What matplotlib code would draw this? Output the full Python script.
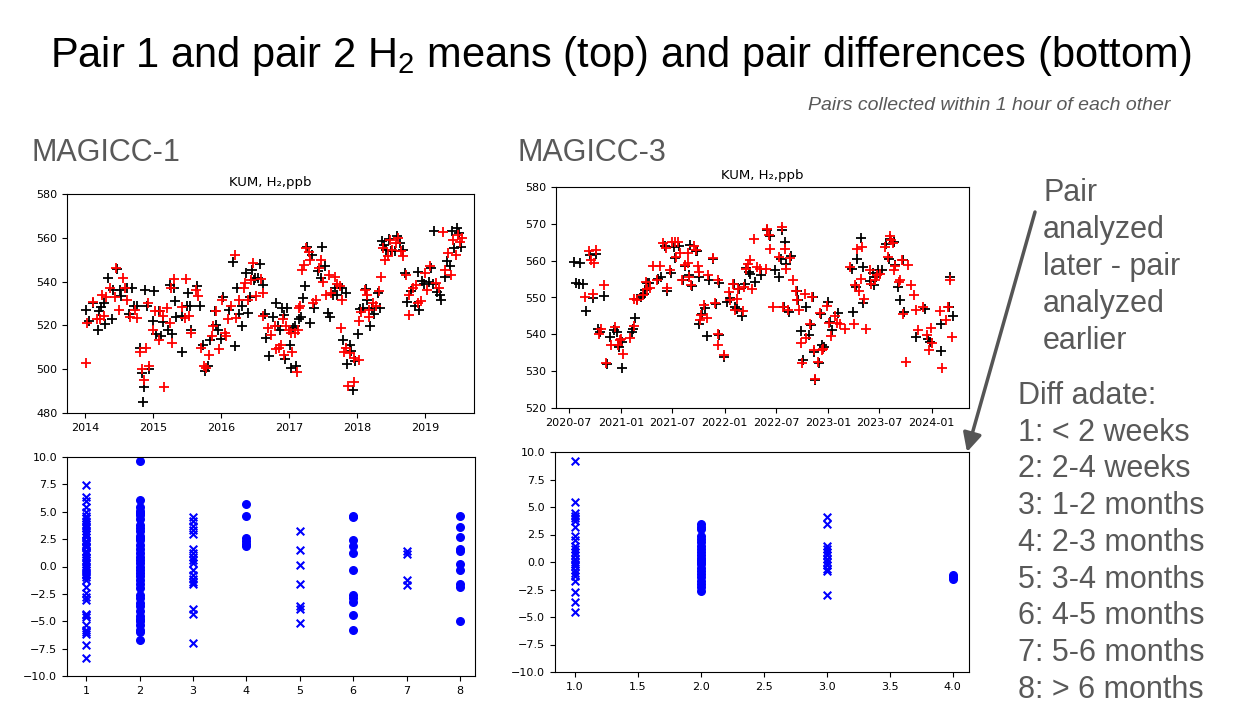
import matplotlib
matplotlib.use("Agg")
import matplotlib.pyplot as plt
import matplotlib.dates as mdates
import pandas as pd

# MAGICC-1, KUM H2 means (decimal year, ppb) - pair 1 black, pair 2 red
m1_pair1 = [
    (2014.01, 527), (2014.06, 522), (2014.12, 530), (2014.18, 518), (2014.20, 526.5), (2014.23, 528.5),
    (2014.27, 530), (2014.29, 520.5), (2014.34, 541.7), (2014.39, 523), (2014.41, 536), (2014.46, 545.8),
    (2014.51, 536), (2014.53, 533.5), (2014.61, 537), (2014.64, 525), (2014.68, 537), (2014.71, 529),
    (2014.76, 529), (2014.80, 509.7), (2014.83, 498.3), (2014.85, 485), (2014.86, 491.7), (2014.88, 536),
    (2014.91, 529), (2014.94, 500), (2015.00, 522), (2015.01, 535.6), (2015.04, 516), (2015.09, 526.5),
    (2015.11, 515), (2015.14, 521.4), (2015.22, 517.7), (2015.25, 538.3), (2015.27, 516), (2015.30, 537),
    (2015.32, 531), (2015.34, 524), (2015.42, 508), (2015.43, 524.4), (2015.50, 529), (2015.51, 535),
    (2015.54, 529), (2015.56, 518), (2015.64, 537.8), (2015.69, 529), (2015.73, 511), (2015.76, 499.3),
    (2015.81, 501.3), (2015.84, 513.5), (2015.91, 526.5), (2015.93, 520.3), (2015.96, 517.8), (2015.99, 513.6),
    (2016.03, 532.8), (2016.12, 527), (2016.17, 548.8), (2016.21, 510.7), (2016.24, 537), (2016.26, 525),
    (2016.30, 528.7), (2016.31, 519.5), (2016.37, 544), (2016.40, 525.6), (2016.42, 533), (2016.46, 545.4),
    (2016.48, 540.7), (2016.50, 541.6), (2016.54, 541.6), (2016.57, 548), (2016.61, 538.6), (2016.64, 525),
    (2016.66, 514.3), (2016.71, 506), (2016.76, 524), (2016.80, 530), (2016.83, 519.6), (2016.86, 518),
    (2016.90, 528), (2016.92, 524.6), (2016.94, 504.7), (2016.97, 528), (2017.01, 511), (2017.02, 500.4),
    (2017.05, 518.8), (2017.08, 519.6), (2017.10, 501.3), (2017.15, 523), (2017.18, 524), (2017.20, 532.4),
    (2017.23, 537.8), (2017.26, 555.7), (2017.30, 521), (2017.33, 552.3), (2017.37, 528), (2017.42, 544.7),
    (2017.47, 541.6), (2017.48, 555.7), (2017.53, 547), (2017.57, 525.6), (2017.60, 524), (2017.64, 534),
    (2017.68, 537), (2017.71, 534), (2017.78, 537), (2017.79, 513.5), (2017.83, 535), (2017.85, 502.6),
    (2017.89, 511), (2017.91, 508.2), (2017.94, 490.7), (2017.97, 503.9), (2018.01, 516.2), (2018.04, 527.5),
    (2018.08, 528), (2018.13, 536.6), (2018.15, 531.7), (2018.19, 519.6), (2018.22, 528), (2018.25, 525.3),
    (2018.30, 534.8), (2018.33, 528), (2018.37, 558.4), (2018.40, 556.9), (2018.43, 554.6), (2018.47, 559.5),
    (2018.50, 553.8), (2018.55, 553.8), (2018.59, 560.7), (2018.63, 557.7), (2018.67, 554.6), (2018.70, 543.9),
    (2018.74, 530.9), (2018.79, 535.6), (2018.85, 528.7), (2018.89, 544.2), (2018.91, 527.2), (2018.96, 540.2),
    (2018.99, 538.7), (2019.06, 539.7), (2019.08, 546.2), (2019.11, 538.7), (2019.13, 563), (2019.18, 535.2),
    (2019.22, 534), (2019.24, 531.7), (2019.29, 542.3), (2019.33, 549.2), (2019.36, 547), (2019.40, 563),
    (2019.43, 555.3), (2019.47, 564.5), (2019.50, 562), (2019.53, 556),
]
m1_pair2 = [
    (2014.01, 503), (2014.02, 521), (2014.11, 530.5), (2014.17, 523), (2014.22, 523), (2014.24, 534),
    (2014.28, 524.5), (2014.31, 533), (2014.36, 537.3), (2014.43, 533), (2014.45, 546), (2014.49, 527),
    (2014.56, 541.7), (2014.59, 537.3), (2014.62, 531.7), (2014.66, 524), (2014.73, 527), (2014.76, 523.4),
    (2014.80, 507.7), (2014.83, 500), (2014.87, 495), (2014.90, 509.7), (2014.92, 530), (2014.94, 501.5),
    (2015.00, 518), (2015.03, 526.5), (2015.08, 513.5), (2015.10, 526.5), (2015.15, 524.4), (2015.16, 491.7),
    (2015.20, 528), (2015.24, 521), (2015.26, 537), (2015.27, 512), (2015.30, 541.3), (2015.43, 528.3),
    (2015.47, 523.4), (2015.48, 541.3), (2015.52, 524.4), (2015.55, 516.5), (2015.63, 536.3), (2015.66, 533.6),
    (2015.71, 509.7), (2015.74, 501.6), (2015.77, 500.5), (2015.82, 506.6), (2015.86, 515.3), (2015.88, 519.6),
    (2015.92, 526.5), (2015.97, 509), (2016.01, 531.7), (2016.05, 516.5), (2016.07, 515), (2016.10, 523),
    (2016.14, 528.7), (2016.20, 552), (2016.22, 523.4), (2016.27, 531.7), (2016.33, 537), (2016.35, 539.4),
    (2016.39, 531.7), (2016.44, 540.7), (2016.47, 548.5), (2016.52, 533.6), (2016.58, 541), (2016.61, 524.4),
    (2016.62, 534.8), (2016.69, 518.8), (2016.74, 515.8), (2016.79, 519.6), (2016.81, 509), (2016.85, 509.7),
    (2016.88, 511), (2016.91, 523), (2016.93, 506.6), (2016.96, 519.6), (2017.00, 518), (2017.03, 516.5),
    (2017.04, 507.7), (2017.08, 516.5), (2017.11, 498.9), (2017.13, 518), (2017.14, 528), (2017.16, 528.7),
    (2017.19, 545.4), (2017.21, 547.7), (2017.25, 555.3), (2017.29, 553.4), (2017.31, 550), (2017.35, 530),
    (2017.40, 531.7), (2017.44, 546.2), (2017.47, 550), (2017.50, 540), (2017.54, 534), (2017.59, 543.1),
    (2017.62, 534.8), (2017.67, 542.3), (2017.70, 538.7), (2017.75, 538), (2017.76, 518.8), (2017.78, 531.7),
    (2017.80, 507.7), (2017.84, 509.7), (2017.86, 492.2), (2017.90, 507.4), (2017.95, 494), (2017.96, 505),
    (2018.02, 504.1), (2018.03, 522.2), (2018.06, 526), (2018.11, 536.3), (2018.15, 534), (2018.17, 527.2),
    (2018.18, 524), (2018.24, 530), (2018.28, 528.7), (2018.32, 535.6), (2018.35, 542.3), (2018.38, 555.3),
    (2018.41, 550), (2018.45, 551.5), (2018.48, 559.2), (2018.51, 554.6), (2018.57, 557.7), (2018.60, 560),
    (2018.64, 553.8), (2018.68, 551.8), (2018.72, 543.1), (2018.76, 534), (2018.77, 524.6), (2018.82, 537),
    (2018.86, 538.6), (2018.90, 530), (2018.94, 531), (2019.00, 543.9), (2019.03, 536.3), (2019.07, 547.3),
    (2019.16, 539.4), (2019.20, 537), (2019.26, 562.5), (2019.30, 545.4), (2019.34, 553), (2019.38, 543.1),
    (2019.41, 559.2), (2019.45, 552.3), (2019.49, 561.4), (2019.52, 558), (2019.54, 560),
]

# MAGICC-3, KUM H2 means
m3_pair1 = [
    (2020.55, 559.6), (2020.61, 559.4), (2020.57, 553.9), (2020.60, 553.6), (2020.64, 553.8), (2020.66, 546.3),
    (2020.70, 561.6), (2020.73, 549.9), (2020.76, 561.7), (2020.78, 541.5), (2020.80, 540.6), (2020.84, 550.3),
    (2020.87, 532.0), (2020.90, 539.3), (2020.93, 541.1), (2020.96, 540.6), (2020.98, 536.6), (2021.01, 537.9),
    (2021.01, 530.9), (2021.11, 540.6), (2021.12, 541.5), (2021.14, 544.5), (2021.15, 549.7), (2021.19, 550.1),
    (2021.22, 551.0), (2021.23, 552.1), (2021.25, 553.9), (2021.27, 553.9), (2021.36, 555.1), (2021.39, 555.6),
    (2021.42, 563.9), (2021.44, 551.8), (2021.48, 556.7), (2021.51, 563.7), (2021.52, 560.7), (2021.56, 563.9),
    (2021.60, 554.8), (2021.62, 558.5), (2021.66, 556.0), (2021.67, 564.2), (2021.69, 553.0), (2021.72, 562.6),
    (2021.73, 562.6), (2021.75, 555.7), (2021.75, 542.9), (2021.78, 545.4), (2021.81, 547.2), (2021.83, 539.5),
    (2021.85, 554.8), (2021.89, 560.5), (2021.92, 548.1), (2021.95, 539.7), (2021.95, 553.9), (2021.99, 533.8),
    (2022.02, 548.8), (2022.05, 549.9), (2022.09, 553.6), (2022.10, 547.4), (2022.12, 547.0), (2022.14, 552.4),
    (2022.17, 544.9), (2022.20, 553.6), (2022.21, 558.1), (2022.24, 556.9), (2022.25, 556.5), (2022.29, 554.2),
    (2022.35, 556.0), (2022.41, 568.2), (2022.44, 566.8), (2022.49, 557.4), (2022.53, 555.6), (2022.54, 560.5),
    (2022.55, 568.4), (2022.57, 547.4), (2022.58, 565.1), (2022.59, 559.0), (2022.62, 546.1), (2022.64, 561.4),
    (2022.70, 551.7), (2022.71, 549.2), (2022.74, 540.9), (2022.76, 532.9), (2022.79, 547.4), (2022.81, 539.9),
    (2022.83, 542.4), (2022.85, 550.1), (2022.86, 535.2), (2022.87, 527.7), (2022.91, 532.2), (2022.93, 545.6),
    (2022.94, 537.0), (2022.96, 536.6), (2023.00, 548.8), (2023.02, 543.3), (2023.04, 541.1), (2023.10, 545.8),
    (2023.23, 557.8), (2023.24, 546.1), (2023.27, 552.9), (2023.28, 560.5), (2023.32, 566.2), (2023.34, 548.5),
    (2023.34, 558.3), (2023.40, 554.5), (2023.43, 556.7), (2023.44, 553.3), (2023.46, 555.7), (2023.48, 557.4),
    (2023.52, 557.4), (2023.56, 564.4), (2023.59, 560.5), (2023.60, 566.0), (2023.64, 565.1), (2023.65, 558.8),
    (2023.67, 552.9), (2023.69, 549.2), (2023.72, 560.1), (2023.73, 546.1), (2023.85, 539.3), (2023.93, 546.8),
    (2023.96, 538.6), (2023.98, 537.9), (2024.09, 542.7), (2024.09, 535.5), (2024.17, 547.4), (2024.18, 555.7),
    (2024.21, 544.9),
]
m3_pair2 = [
    (2020.65, 550.1), (2020.69, 562.6), (2020.71, 560.3), (2020.73, 551.0), (2020.74, 559.5), (2020.76, 562.8),
    (2020.79, 540.2), (2020.81, 541.5), (2020.84, 553.3), (2020.86, 532.2), (2020.91, 537.0), (2020.94, 542.0),
    (2020.97, 537.0), (2020.99, 538.4), (2021.00, 538.6), (2021.02, 534.6), (2021.09, 539.1), (2021.13, 542.2),
    (2021.13, 549.7), (2021.15, 549.2), (2021.21, 550.6), (2021.25, 552.4), (2021.24, 554.2), (2021.28, 552.7),
    (2021.31, 558.5), (2021.38, 558.5), (2021.35, 554.8), (2021.41, 564.8), (2021.43, 563.5), (2021.44, 552.7),
    (2021.47, 557.6), (2021.49, 565.0), (2021.52, 565.0), (2021.53, 561.0), (2021.55, 565.0), (2021.57, 562.1),
    (2021.59, 554.8), (2021.62, 558.7), (2021.65, 562.1), (2021.65, 559.4), (2021.66, 555.6), (2021.68, 553.3),
    (2021.70, 563.9), (2021.72, 562.8), (2021.74, 558.5), (2021.75, 556.9), (2021.76, 544.0), (2021.77, 545.2),
    (2021.80, 547.9), (2021.83, 544.3), (2021.84, 556.0), (2021.89, 560.8), (2021.91, 548.4), (2021.94, 537.0),
    (2021.94, 540.2), (2021.94, 554.8), (2021.99, 534.3), (2022.04, 551.5), (2022.05, 549.2), (2022.08, 553.7),
    (2022.10, 546.5), (2022.12, 549.7), (2022.13, 552.4), (2022.18, 546.3), (2022.19, 552.9), (2022.21, 557.8),
    (2022.23, 559.2), (2022.25, 560.1), (2022.26, 552.4), (2022.28, 566.0), (2022.31, 558.3), (2022.34, 557.8),
    (2022.40, 557.8), (2022.41, 568.7), (2022.43, 567.1), (2022.44, 563.3), (2022.47, 547.4), (2022.53, 561.0),
    (2022.55, 569.1), (2022.56, 547.4), (2022.58, 563.3), (2022.59, 557.8), (2022.61, 546.5), (2022.63, 560.8),
    (2022.66, 554.8), (2022.69, 551.7), (2022.70, 549.4), (2022.72, 546.7), (2022.74, 537.6), (2022.75, 532.2),
    (2022.78, 551.0), (2022.79, 539.1), (2022.82, 542.7), (2022.84, 550.1), (2022.86, 535.7), (2022.87, 528.0),
    (2022.90, 532.5), (2022.92, 545.8), (2022.94, 535.7), (2022.95, 536.1), (2022.99, 547.6), (2023.01, 543.1),
    (2023.03, 539.5), (2023.07, 544.9), (2023.09, 543.1), (2023.11, 542.9), (2023.16, 541.4), (2023.21, 558.3),
    (2023.25, 542.9), (2023.26, 553.3), (2023.28, 563.3), (2023.30, 551.9), (2023.32, 555.1), (2023.33, 563.7),
    (2023.35, 549.7), (2023.37, 541.5), (2023.40, 557.4), (2023.41, 553.7), (2023.45, 554.8), (2023.47, 556.0),
    (2023.50, 556.5), (2023.55, 563.7), (2023.58, 561.0), (2023.60, 566.8), (2023.61, 565.7), (2023.63, 564.8),
    (2023.64, 557.4), (2023.65, 558.5), (2023.68, 554.2), (2023.69, 554.8), (2023.71, 560.3), (2023.72, 545.4),
    (2023.75, 532.5), (2023.77, 558.7), (2023.80, 553.3), (2023.83, 550.8), (2023.85, 546.7), (2023.87, 541.3),
    (2023.92, 547.4), (2023.95, 539.7), (2023.97, 535.7), (2023.99, 541.8), (2024.00, 537.6), (2024.08, 546.3),
    (2024.10, 530.9), (2024.14, 544.0), (2024.16, 547.4), (2024.18, 554.8), (2024.20, 539.3),
]

# pair differences by "diff adate" category
m1_diffs = [
    [7.4, 6.35, 6.0, 5.4, 5.0, 4.6, 4.4, 4.2, 3.9, 3.7, 3.55, 3.25, 3.0, 2.95, 2.65, 2.35, 2.2, 2.05, 1.9,
     1.75, 1.45, 1.3, 1.15, 0.9, 0.6, 0.4, 0.25, 0.0, -0.3, -0.5, -0.65, -0.8, -0.95, -1.25, -1.85, -2.4,
     -2.75, -3.1, -4.3, -4.4, -4.6, -5.35, -5.8, -6.0, -6.2, -7.2, -8.4],
    [9.6, 6.1, 5.4, 5.1, 4.9, 4.7, 4.3, 3.8, 3.5, 3.2, 2.8, 2.6, 2.4, 2.0, 1.6, 1.2, 0.9, 0.6, 0.3, 0.0,
     -0.3, -0.6, -0.9, -1.2, -1.6, -2.0, -2.6, -2.9, -3.3, -3.6, -4.1, -4.5, -4.8, -5.0, -5.3, -5.8, -6.0, -6.7],
    [4.5, 4.2, 3.7, 3.3, 3.0, 1.6, 1.2, 0.9, 0.6, 0.3, -0.3, -0.8, -1.1, -1.4, -1.6, -3.85, -4.3, -7.0],
    [5.75, 4.65, 2.6, 2.3, 2.1, 1.85],
    [3.2, 1.55, 0.15, -1.6, -3.6, -3.9, -5.2],
    [4.65, 4.55, 2.4, 1.85, 1.2, -0.3, -2.6, -2.9, -3.2, -4.4, -5.8],
    [1.45, 1.15, -1.25, -1.7],
    [4.6, 3.65, 2.7, 1.6, 1.4, 0.2, -0.35, -1.6, -1.85, -5.0],
]
m3_diffs = [
    [9.2, 5.5, 4.5, 4.2, 4.0, 3.7, 3.2, 2.4, 2.0, 1.5, 1.2, 0.9, 0.6, 0.3, 0.0, -0.2, -0.4, -0.7, -1.0,
     -1.3, -1.7, -2.7, -3.6, -4.5],
    [3.5, 3.2, 3.0, 2.4, 2.1, 1.8, 1.5, 1.2, 0.9, 0.6, 0.4, 0.2, 0.0, -0.2, -0.5, -0.8, -1.1, -1.4, -1.7,
     -2.0, -2.3, -2.6],
    [4.1, 3.5, 1.5, 1.2, 0.9, 0.6, 0.3, 0.0, -0.3, -0.6, -0.8, -3.0],
    [-1.2, -1.4, -1.5],
]

note_lines = ["Pair", "analyzed", "later - pair", "analyzed", "earlier"]
adate_lines = ["Diff adate:", "1: < 2 weeks", "2: 2-4 weeks", "3: 1-2 months", "4: 2-3 months",
               "5: 3-4 months", "6: 4-5 months", "7: 5-6 months", "8: > 6 months"]

W, H = 1241, 706
GREY = "#595959"
plt.rcParams["mathtext.fontset"] = "custom"
plt.rcParams["mathtext.rm"] = "Liberation Sans"


def to_dates(years):
    return [pd.Timestamp(int(y), 1, 1) + pd.Timedelta(days=(y - int(y)) * 365.25) for y in years]


def px_axes(fig, left, top, right, bottom):
    # place axes by slide pixel box
    return fig.add_axes([left / W, 1 - bottom / H, (right - left) / W, (bottom - top) / H])


def draw_means(ax, pair1, pair2, ylim):
    for pts, col in ((pair1, "black"), (pair2, "red")):
        t, v = zip(*pts)
        ax.scatter(to_dates(t), v, marker="+", s=42, linewidths=1.3, color=col)
    ax.set_ylim(*ylim)
    ax.set_title("KUM, H\u2082,ppb", fontsize=9.5)
    ax.tick_params(labelsize=8)


def draw_diffs(ax, diffs):
    for i, vals in enumerate(diffs):
        mk = "x" if i % 2 == 0 else "o"
        ax.scatter([i + 1] * len(vals), vals, marker=mk, s=30, color="blue")
    ax.set_ylim(-10, 10)
    ax.tick_params(labelsize=8)


fig = plt.figure(figsize=(W / 100, H / 100), dpi=100)

ax1 = px_axes(fig, 67, 194, 474, 413)
draw_means(ax1, m1_pair1, m1_pair2, (480, 580))
ax1.set_xlim(to_dates([2013.73, 2019.72]))
ax1.xaxis.set_major_locator(mdates.YearLocator())
ax1.xaxis.set_major_formatter(mdates.DateFormatter("%Y"))

ax2 = px_axes(fig, 556, 187, 969, 408)
draw_means(ax2, m3_pair1, m3_pair2, (520, 580))
ax2.set_xlim(to_dates([2020.375, 2024.36]))
ax2.xaxis.set_major_locator(mdates.MonthLocator(bymonth=[1, 7]))
ax2.xaxis.set_major_formatter(mdates.DateFormatter("%Y-%m"))

ax3 = px_axes(fig, 67, 457, 475, 676)
draw_diffs(ax3, m1_diffs)
ax3.set_xlim(0.64, 8.28)

ax4 = px_axes(fig, 555, 452, 969, 672)
draw_diffs(ax4, m3_diffs)
ax4.set_xlim(0.84, 4.13)

# slide text
fig.text(0.5, 1 - 67 / H, r"Pair 1 and pair 2 H$_2$ means (top) and pair differences (bottom)",
         ha="center", va="baseline", fontsize=30, family="Liberation Sans", color="black")
fig.text(1170 / W, 1 - 110 / H, "Pairs collected within 1 hour of each other", ha="right",
         va="baseline", fontsize=14, style="italic", family="Liberation Sans", color=GREY)
fig.text(32 / W, 1 - 161 / H, "MAGICC-1", fontsize=22, family="Liberation Sans", color=GREY, va="baseline")
fig.text(517 / W, 1 - 161 / H, "MAGICC-3", fontsize=22, family="Liberation Sans", color=GREY, va="baseline")

for i, line in enumerate(note_lines):
    fig.text(1043 / W, 1 - (201 + 37.0 * i) / H, line, fontsize=22, family="Liberation Sans",
             color=GREY, va="baseline")
for i, line in enumerate(adate_lines):
    fig.text(1018 / W, 1 - (404 + 36.7 * i) / H, line, fontsize=22, family="Liberation Sans",
             color=GREY, va="baseline")

fig.add_artist(plt.Annotation("", xy=(967 / W, 1 - 452 / H), xytext=(1035 / W, 1 - 212 / H),
                              xycoords="figure fraction", textcoords="figure fraction",
                              arrowprops=dict(arrowstyle="-|>", lw=2.5, color="#555555",
                                              mutation_scale=28, shrinkA=0, shrinkB=0)))

plt.savefig("out.png", dpi=100)
